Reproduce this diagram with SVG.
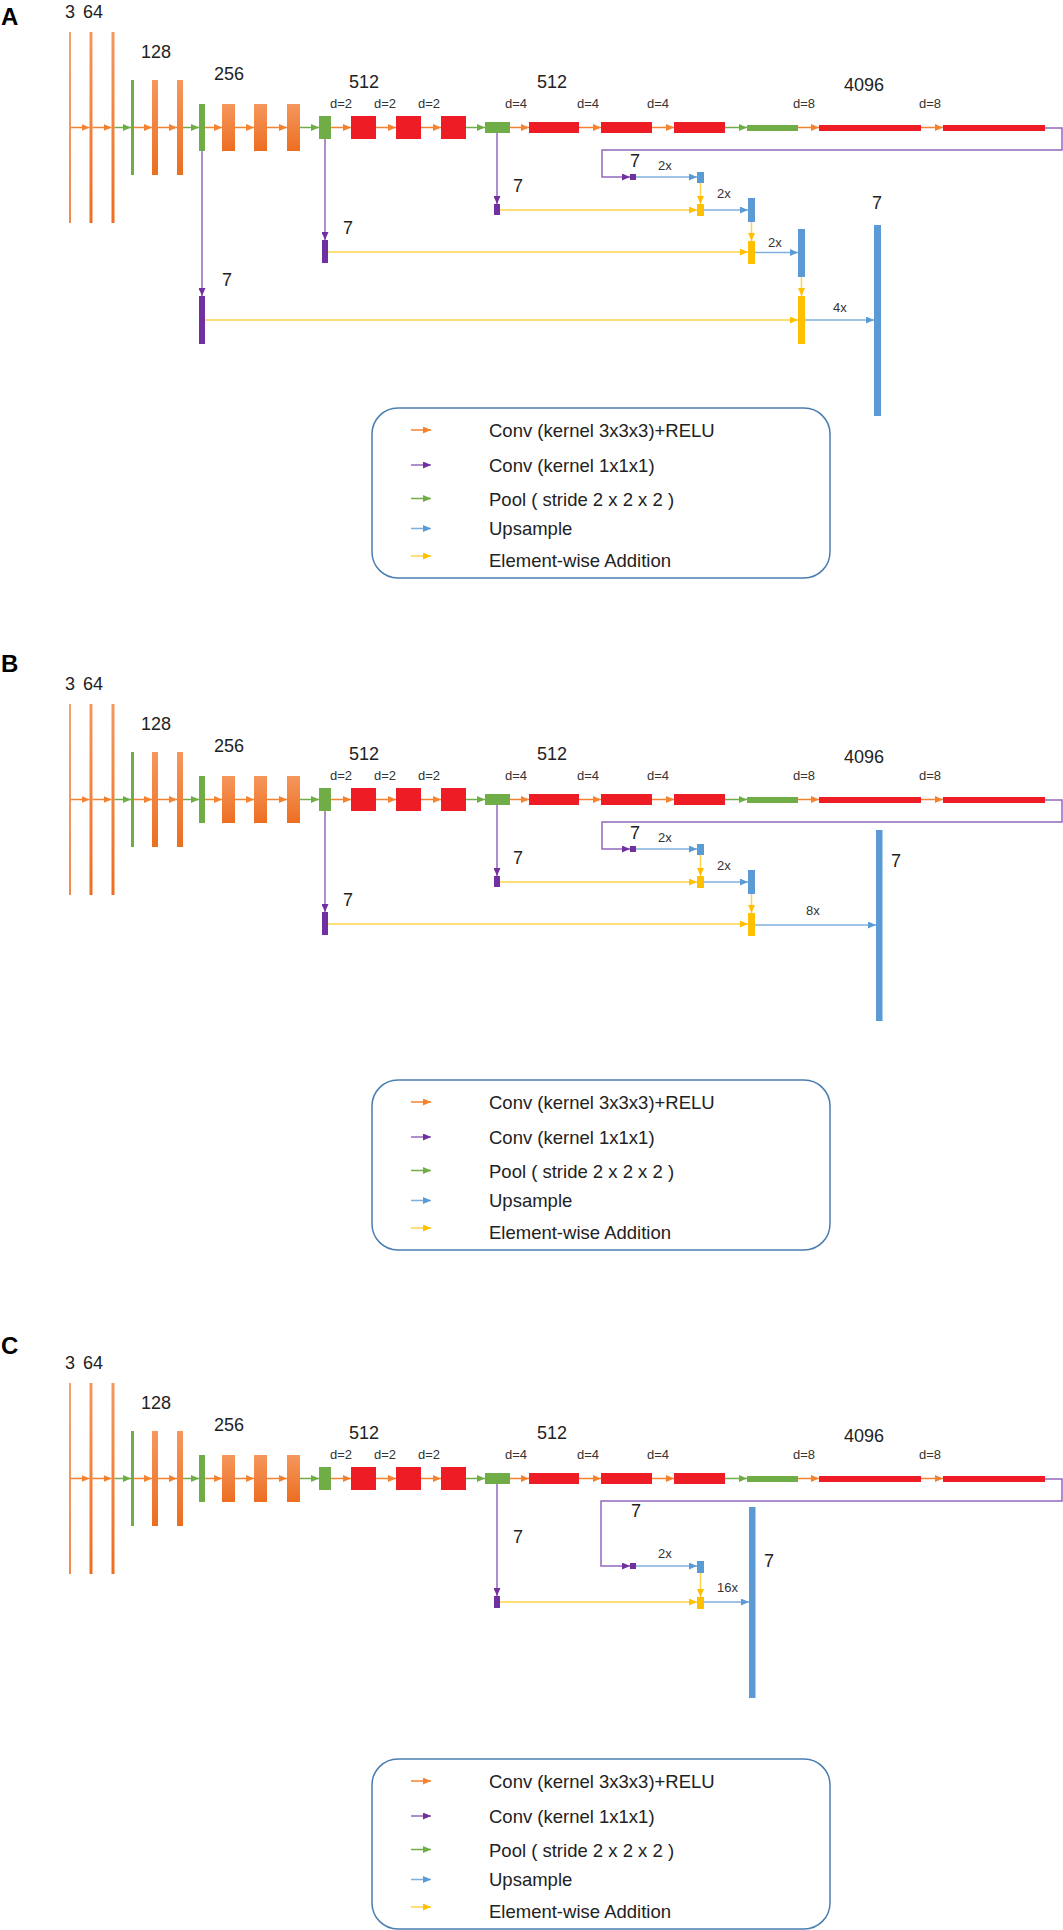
<svg xmlns="http://www.w3.org/2000/svg" width="1063" height="1930" viewBox="0 0 1063 1930">
<style>
text{font-family:"Liberation Sans",Arial,sans-serif;fill:#222}
.lbl{font-size:18px}
.d{font-size:13px;fill:#333}
.x{font-size:13px;fill:#333}
.leg{font-size:18.5px}
.pl{font-size:24px;font-weight:bold;fill:#000}
.or{fill:url(#og)}
.l1{fill:url(#og1)}
.gr{fill:#70AD47}
.rd{fill:#EE1C25}
.pu{fill:#7030A0}
.bl{fill:#5B9BD5}
.ye{fill:#FFC000}
.co{fill:none;stroke:#F4822E;stroke-width:1.5}
.cg{fill:none;stroke:#70AD47;stroke-width:1.5}
.cp{fill:none;stroke:#9268BF;stroke-width:1.5}
.cb{fill:none;stroke:#7FB0DF;stroke-width:1.5}
.cy{fill:none;stroke:#FFD24A;stroke-width:1.5}
.box{fill:none;stroke:#4A7DB0;stroke-width:1.5}
</style>
<defs>
<linearGradient id="og" x1="0" y1="0" x2="0" y2="1"><stop offset="0" stop-color="#F5975C"/><stop offset="1" stop-color="#EC6E21"/></linearGradient>
<linearGradient id="og1" x1="0" y1="0" x2="0" y2="1"><stop offset="0" stop-color="#F6A26E"/><stop offset="1" stop-color="#F08A4A"/></linearGradient>
<marker id="mo" markerUnits="userSpaceOnUse" markerWidth="8" markerHeight="7" refX="8" refY="3.5" orient="auto"><path d="M0,0 L8,3.5 L0,7 Z" fill="#F4822E"/></marker>
<marker id="mg" markerUnits="userSpaceOnUse" markerWidth="8" markerHeight="7" refX="8" refY="3.5" orient="auto"><path d="M0,0 L8,3.5 L0,7 Z" fill="#70AD47"/></marker>
<marker id="mp" markerUnits="userSpaceOnUse" markerWidth="8" markerHeight="7" refX="8" refY="3.5" orient="auto"><path d="M0,0 L8,3.5 L0,7 Z" fill="#7030A0"/></marker>
<marker id="mb" markerUnits="userSpaceOnUse" markerWidth="8" markerHeight="7" refX="8" refY="3.5" orient="auto"><path d="M0,0 L8,3.5 L0,7 Z" fill="#5B9BD5"/></marker>
<marker id="my" markerUnits="userSpaceOnUse" markerWidth="8" markerHeight="7" refX="8" refY="3.5" orient="auto"><path d="M0,0 L8,3.5 L0,7 Z" fill="#FFC000"/></marker>
</defs>
<rect x="0" y="0" width="1063" height="1930" fill="#fff"/>

<text class="pl" x="1" y="25">A</text>
<text class="pl" x="1" y="672">B</text>
<text class="pl" x="1" y="1354">C</text>

<!-- ================= PANEL A ================= -->
<g id="panelA">
<g id="a-labels">
<text class="lbl" x="65" y="17.5">3 <tspan x="83">64</tspan></text>
<text class="lbl" x="141" y="58">128</text>
<text class="lbl" x="214" y="80">256</text>
<text class="lbl" x="349" y="88">512</text>
<text class="lbl" x="537" y="88">512</text>
<text class="lbl" x="844" y="91">4096</text>
<text class="d" x="330" y="108">d=2</text><text class="d" x="374" y="108">d=2</text><text class="d" x="418" y="108">d=2</text>
<text class="d" x="505" y="108">d=4</text><text class="d" x="577" y="108">d=4</text><text class="d" x="647" y="108">d=4</text>
<text class="d" x="793" y="108">d=8</text><text class="d" x="919" y="108">d=8</text>
<text class="lbl" x="630" y="167">7</text>
<text class="lbl" x="513" y="192">7</text>
<text class="lbl" x="343" y="234">7</text>
<text class="lbl" x="222" y="286">7</text>
<text class="lbl" x="872" y="209">7</text>
<text class="x" x="658" y="170">2x</text>
<text class="x" x="717" y="198">2x</text>
<text class="x" x="768" y="247">2x</text>
<text class="x" x="833" y="312">4x</text>
</g>
<g id="a-connectors">
<path class="co" marker-end="url(#mo)" d="M70,127.5 H89.5"/>
<path class="co" marker-end="url(#mo)" d="M92.5,127.5 H111.5"/>
<path class="cg" marker-end="url(#mg)" d="M114.5,127.5 H131"/>
<path class="co" marker-end="url(#mo)" d="M134,127.5 H152"/>
<path class="co" marker-end="url(#mo)" d="M158,127.5 H177"/>
<path class="cg" marker-end="url(#mg)" d="M183,127.5 H199"/>
<path class="co" marker-end="url(#mo)" d="M205,127.5 H222"/>
<path class="co" marker-end="url(#mo)" d="M235,127.5 H254"/>
<path class="co" marker-end="url(#mo)" d="M267,127.5 H287"/>
<path class="cg" marker-end="url(#mg)" d="M300,127.5 H319"/>
<path class="co" marker-end="url(#mo)" d="M331,127.5 H351"/>
<path class="co" marker-end="url(#mo)" d="M376,127.5 H396"/>
<path class="co" marker-end="url(#mo)" d="M421,127.5 H441"/>
<path class="cg" marker-end="url(#mg)" d="M466,127.5 H485"/>
<path class="co" marker-end="url(#mo)" d="M510,127.5 H529"/>
<path class="co" marker-end="url(#mo)" d="M579,127.5 H601"/>
<path class="co" marker-end="url(#mo)" d="M652,127.5 H674"/>
<path class="cg" marker-end="url(#mg)" d="M725,127.5 H747"/>
<path class="co" marker-end="url(#mo)" d="M798,127.5 H819"/>
<path class="co" marker-end="url(#mo)" d="M921,127.5 H943"/>
<path class="cp" marker-end="url(#mp)" d="M202,151 V296"/>
<path class="cp" marker-end="url(#mp)" d="M325,139 V240"/>
<path class="cp" marker-end="url(#mp)" d="M497,133 V204"/>
<path class="cp" marker-end="url(#mp)" d="M1045,128 H1062 V150 H602 V177 H630"/>
<path class="cb" marker-end="url(#mb)" d="M636,177 H697"/>
<path class="cy" marker-end="url(#my)" d="M700.5,183 V204"/>
<path class="cy" marker-end="url(#my)" d="M500,210 H697"/>
<path class="cb" marker-end="url(#mb)" d="M704,210 H748"/>
<path class="cy" marker-end="url(#my)" d="M751.5,222 V241"/>
<path class="cy" marker-end="url(#my)" d="M328,252 H748"/>
<path class="cb" marker-end="url(#mb)" d="M755,252.5 H798"/>
<path class="cy" marker-end="url(#my)" d="M801.5,277 V296"/>
<path class="cy" marker-end="url(#my)" d="M205,320 H798"/>
<path class="cb" marker-end="url(#mb)" d="M805,320 H874"/>
</g>
<g id="a-in"><rect class="l1" x="69" y="32" width="2" height="191"/></g>
<g id="a-conv1"><rect class="or" x="89.5" y="32" width="3" height="191"/></g>
<g id="a-conv2"><rect class="or" x="111.5" y="32" width="3" height="191"/></g>
<g id="a-pool1"><rect class="gr" x="131" y="80" width="3" height="95"/></g>
<g id="a-conv3"><rect class="or" x="152" y="80" width="6" height="95"/></g>
<g id="a-conv4"><rect class="or" x="177" y="80" width="6" height="95"/></g>
<g id="a-pool2"><rect class="gr" x="199" y="104" width="6" height="47"/></g>
<g id="a-conv5"><rect class="or" x="222" y="104" width="13" height="47"/></g>
<g id="a-conv6"><rect class="or" x="254" y="104" width="13" height="47"/></g>
<g id="a-conv7"><rect class="or" x="287" y="104" width="13" height="47"/></g>
<g id="a-pool3"><rect class="gr" x="319" y="116" width="12" height="23"/></g>
<g id="a-conv8"><rect class="rd" x="351" y="116" width="25" height="23"/></g>
<g id="a-conv9"><rect class="rd" x="396" y="116" width="25" height="23"/></g>
<g id="a-conv10"><rect class="rd" x="441" y="116" width="25" height="23"/></g>
<g id="a-pool4"><rect class="gr" x="485" y="122" width="25" height="11"/></g>
<g id="a-conv11"><rect class="rd" x="529" y="122" width="50" height="11"/></g>
<g id="a-conv12"><rect class="rd" x="601" y="122" width="51" height="11"/></g>
<g id="a-conv13"><rect class="rd" x="674" y="122" width="51" height="11"/></g>
<g id="a-pool5"><rect class="gr" x="747" y="125" width="51" height="6"/></g>
<g id="a-fc6"><rect class="rd" x="819" y="125" width="102" height="6"/></g>
<g id="a-fc7"><rect class="rd" x="943" y="125" width="102" height="6"/></g>
<g id="a-score5"><rect class="pu" x="630" y="174" width="6" height="6"/></g>
<g id="a-score4"><rect class="pu" x="494" y="204" width="6" height="11"/></g>
<g id="a-score3"><rect class="pu" x="322" y="240" width="6" height="23"/></g>
<g id="a-score2"><rect class="pu" x="199" y="296" width="6" height="48"/></g>
<g id="a-up1"><rect class="bl" x="697" y="172" width="7" height="11"/></g>
<g id="a-add1"><rect class="ye" x="697" y="204" width="7" height="12"/></g>
<g id="a-up2"><rect class="bl" x="748" y="198" width="7" height="24"/></g>
<g id="a-add2"><rect class="ye" x="748" y="241" width="7" height="23"/></g>
<g id="a-up3"><rect class="bl" x="798" y="229" width="7" height="48"/></g>
<g id="a-add3"><rect class="ye" x="798" y="296" width="7" height="48"/></g>
<g id="a-out"><rect class="bl" x="874" y="225" width="7" height="191"/></g>
<g id="a-legend">
<rect class="box" x="372" y="408" width="458" height="170" rx="26"/>
<path class="co" marker-end="url(#mo)" d="M411,430 H431"/>
<path class="cp" stroke="#7030A0" marker-end="url(#mp)" d="M411,465 H431"/>
<path class="cg" marker-end="url(#mg)" d="M411,498.5 H431"/>
<path class="cb" marker-end="url(#mb)" d="M411,528.5 H431"/>
<path class="cy" marker-end="url(#my)" d="M411,556 H431"/>
<text class="leg" x="489" y="437">Conv (kernel 3x3x3)+RELU</text>
<text class="leg" x="489" y="472">Conv (kernel 1x1x1)</text>
<text class="leg" x="489" y="506">Pool ( stride 2 x 2 x 2 )</text>
<text class="leg" x="489" y="535">Upsample</text>
<text class="leg" x="489" y="567">Element-wise Addition</text>
</g>
</g>

<!-- ================= PANEL B ================= -->
<g id="panelB" transform="translate(0,672)">
<g id="b-labels">
<text class="lbl" x="65" y="17.5">3 <tspan x="83">64</tspan></text>
<text class="lbl" x="141" y="58">128</text>
<text class="lbl" x="214" y="80">256</text>
<text class="lbl" x="349" y="88">512</text>
<text class="lbl" x="537" y="88">512</text>
<text class="lbl" x="844" y="91">4096</text>
<text class="d" x="330" y="108">d=2</text><text class="d" x="374" y="108">d=2</text><text class="d" x="418" y="108">d=2</text>
<text class="d" x="505" y="108">d=4</text><text class="d" x="577" y="108">d=4</text><text class="d" x="647" y="108">d=4</text>
<text class="d" x="793" y="108">d=8</text><text class="d" x="919" y="108">d=8</text>
<text class="lbl" x="630" y="167">7</text>
<text class="lbl" x="513" y="192">7</text>
<text class="lbl" x="343" y="234">7</text>
<text class="lbl" x="891" y="195">7</text>
<text class="x" x="658" y="170">2x</text>
<text class="x" x="717" y="198">2x</text>
<text class="x" x="806" y="243">8x</text>
</g>
<g id="b-connectors">
<path class="co" marker-end="url(#mo)" d="M70,127.5 H89.5"/>
<path class="co" marker-end="url(#mo)" d="M92.5,127.5 H111.5"/>
<path class="cg" marker-end="url(#mg)" d="M114.5,127.5 H131"/>
<path class="co" marker-end="url(#mo)" d="M134,127.5 H152"/>
<path class="co" marker-end="url(#mo)" d="M158,127.5 H177"/>
<path class="cg" marker-end="url(#mg)" d="M183,127.5 H199"/>
<path class="co" marker-end="url(#mo)" d="M205,127.5 H222"/>
<path class="co" marker-end="url(#mo)" d="M235,127.5 H254"/>
<path class="co" marker-end="url(#mo)" d="M267,127.5 H287"/>
<path class="cg" marker-end="url(#mg)" d="M300,127.5 H319"/>
<path class="co" marker-end="url(#mo)" d="M331,127.5 H351"/>
<path class="co" marker-end="url(#mo)" d="M376,127.5 H396"/>
<path class="co" marker-end="url(#mo)" d="M421,127.5 H441"/>
<path class="cg" marker-end="url(#mg)" d="M466,127.5 H485"/>
<path class="co" marker-end="url(#mo)" d="M510,127.5 H529"/>
<path class="co" marker-end="url(#mo)" d="M579,127.5 H601"/>
<path class="co" marker-end="url(#mo)" d="M652,127.5 H674"/>
<path class="cg" marker-end="url(#mg)" d="M725,127.5 H747"/>
<path class="co" marker-end="url(#mo)" d="M798,127.5 H819"/>
<path class="co" marker-end="url(#mo)" d="M921,127.5 H943"/>
<path class="cp" marker-end="url(#mp)" d="M325,139 V240"/>
<path class="cp" marker-end="url(#mp)" d="M497,133 V204"/>
<path class="cp" marker-end="url(#mp)" d="M1045,128 H1062 V150 H602 V177 H630"/>
<path class="cb" marker-end="url(#mb)" d="M636,177 H697"/>
<path class="cy" marker-end="url(#my)" d="M700.5,183 V204"/>
<path class="cy" marker-end="url(#my)" d="M500,210 H697"/>
<path class="cb" marker-end="url(#mb)" d="M704,210 H748"/>
<path class="cy" marker-end="url(#my)" d="M751.5,222 V241"/>
<path class="cy" marker-end="url(#my)" d="M328,252 H748"/>
<path class="cb" marker-end="url(#mb)" d="M755,253 H876"/>
</g>
<g id="b-in"><rect class="l1" x="69" y="32" width="2" height="191"/></g>
<g id="b-conv1"><rect class="or" x="89.5" y="32" width="3" height="191"/></g>
<g id="b-conv2"><rect class="or" x="111.5" y="32" width="3" height="191"/></g>
<g id="b-pool1"><rect class="gr" x="131" y="80" width="3" height="95"/></g>
<g id="b-conv3"><rect class="or" x="152" y="80" width="6" height="95"/></g>
<g id="b-conv4"><rect class="or" x="177" y="80" width="6" height="95"/></g>
<g id="b-pool2"><rect class="gr" x="199" y="104" width="6" height="47"/></g>
<g id="b-conv5"><rect class="or" x="222" y="104" width="13" height="47"/></g>
<g id="b-conv6"><rect class="or" x="254" y="104" width="13" height="47"/></g>
<g id="b-conv7"><rect class="or" x="287" y="104" width="13" height="47"/></g>
<g id="b-pool3"><rect class="gr" x="319" y="116" width="12" height="23"/></g>
<g id="b-conv8"><rect class="rd" x="351" y="116" width="25" height="23"/></g>
<g id="b-conv9"><rect class="rd" x="396" y="116" width="25" height="23"/></g>
<g id="b-conv10"><rect class="rd" x="441" y="116" width="25" height="23"/></g>
<g id="b-pool4"><rect class="gr" x="485" y="122" width="25" height="11"/></g>
<g id="b-conv11"><rect class="rd" x="529" y="122" width="50" height="11"/></g>
<g id="b-conv12"><rect class="rd" x="601" y="122" width="51" height="11"/></g>
<g id="b-conv13"><rect class="rd" x="674" y="122" width="51" height="11"/></g>
<g id="b-pool5"><rect class="gr" x="747" y="125" width="51" height="6"/></g>
<g id="b-fc6"><rect class="rd" x="819" y="125" width="102" height="6"/></g>
<g id="b-fc7"><rect class="rd" x="943" y="125" width="102" height="6"/></g>
<g id="b-score5"><rect class="pu" x="630" y="174" width="6" height="6"/></g>
<g id="b-score4"><rect class="pu" x="494" y="204" width="6" height="11"/></g>
<g id="b-score3"><rect class="pu" x="322" y="240" width="6" height="23"/></g>
<g id="b-up1"><rect class="bl" x="697" y="172" width="7" height="11"/></g>
<g id="b-add1"><rect class="ye" x="697" y="204" width="7" height="12"/></g>
<g id="b-up2"><rect class="bl" x="748" y="198" width="7" height="24"/></g>
<g id="b-add2"><rect class="ye" x="748" y="241" width="7" height="23"/></g>
<g id="b-out"><rect class="bl" x="876" y="158" width="6.5" height="191"/></g>
<g id="b-legend">
<rect class="box" x="372" y="408" width="458" height="170" rx="26"/>
<path class="co" marker-end="url(#mo)" d="M411,430 H431"/>
<path class="cp" stroke="#7030A0" marker-end="url(#mp)" d="M411,465 H431"/>
<path class="cg" marker-end="url(#mg)" d="M411,498.5 H431"/>
<path class="cb" marker-end="url(#mb)" d="M411,528.5 H431"/>
<path class="cy" marker-end="url(#my)" d="M411,556 H431"/>
<text class="leg" x="489" y="437">Conv (kernel 3x3x3)+RELU</text>
<text class="leg" x="489" y="472">Conv (kernel 1x1x1)</text>
<text class="leg" x="489" y="506">Pool ( stride 2 x 2 x 2 )</text>
<text class="leg" x="489" y="535">Upsample</text>
<text class="leg" x="489" y="567">Element-wise Addition</text>
</g>
</g>

<!-- ================= PANEL C ================= -->
<g id="panelC" transform="translate(0,1351)">
<g id="c-labels">
<text class="lbl" x="65" y="17.5">3 <tspan x="83">64</tspan></text>
<text class="lbl" x="141" y="58">128</text>
<text class="lbl" x="214" y="80">256</text>
<text class="lbl" x="349" y="88">512</text>
<text class="lbl" x="537" y="88">512</text>
<text class="lbl" x="844" y="91">4096</text>
<text class="d" x="330" y="108">d=2</text><text class="d" x="374" y="108">d=2</text><text class="d" x="418" y="108">d=2</text>
<text class="d" x="505" y="108">d=4</text><text class="d" x="577" y="108">d=4</text><text class="d" x="647" y="108">d=4</text>
<text class="d" x="793" y="108">d=8</text><text class="d" x="919" y="108">d=8</text>
<text class="lbl" x="631" y="166">7</text>
<text class="lbl" x="513" y="192">7</text>
<text class="lbl" x="764" y="216">7</text>
<text class="x" x="658" y="207">2x</text>
<text class="x" x="717" y="241">16x</text>
</g>
<g id="c-connectors">
<path class="co" marker-end="url(#mo)" d="M70,127.5 H89.5"/>
<path class="co" marker-end="url(#mo)" d="M92.5,127.5 H111.5"/>
<path class="cg" marker-end="url(#mg)" d="M114.5,127.5 H131"/>
<path class="co" marker-end="url(#mo)" d="M134,127.5 H152"/>
<path class="co" marker-end="url(#mo)" d="M158,127.5 H177"/>
<path class="cg" marker-end="url(#mg)" d="M183,127.5 H199"/>
<path class="co" marker-end="url(#mo)" d="M205,127.5 H222"/>
<path class="co" marker-end="url(#mo)" d="M235,127.5 H254"/>
<path class="co" marker-end="url(#mo)" d="M267,127.5 H287"/>
<path class="cg" marker-end="url(#mg)" d="M300,127.5 H319"/>
<path class="co" marker-end="url(#mo)" d="M331,127.5 H351"/>
<path class="co" marker-end="url(#mo)" d="M376,127.5 H396"/>
<path class="co" marker-end="url(#mo)" d="M421,127.5 H441"/>
<path class="cg" marker-end="url(#mg)" d="M466,127.5 H485"/>
<path class="co" marker-end="url(#mo)" d="M510,127.5 H529"/>
<path class="co" marker-end="url(#mo)" d="M579,127.5 H601"/>
<path class="co" marker-end="url(#mo)" d="M652,127.5 H674"/>
<path class="cg" marker-end="url(#mg)" d="M725,127.5 H747"/>
<path class="co" marker-end="url(#mo)" d="M798,127.5 H819"/>
<path class="co" marker-end="url(#mo)" d="M921,127.5 H943"/>
<path class="cp" marker-end="url(#mp)" d="M497,133 V245"/>
<path class="cp" marker-end="url(#mp)" d="M1045,128 H1062 V150 H601 V215 H630"/>
<path class="cb" marker-end="url(#mb)" d="M636,215 H697"/>
<path class="cy" marker-end="url(#my)" d="M700.5,222 V246"/>
<path class="cy" marker-end="url(#my)" d="M500,251 H697"/>
<path class="cb" marker-end="url(#mb)" d="M704,251 H749"/>
</g>
<g id="c-in"><rect class="l1" x="69" y="32" width="2" height="191"/></g>
<g id="c-conv1"><rect class="or" x="89.5" y="32" width="3" height="191"/></g>
<g id="c-conv2"><rect class="or" x="111.5" y="32" width="3" height="191"/></g>
<g id="c-pool1"><rect class="gr" x="131" y="80" width="3" height="95"/></g>
<g id="c-conv3"><rect class="or" x="152" y="80" width="6" height="95"/></g>
<g id="c-conv4"><rect class="or" x="177" y="80" width="6" height="95"/></g>
<g id="c-pool2"><rect class="gr" x="199" y="104" width="6" height="47"/></g>
<g id="c-conv5"><rect class="or" x="222" y="104" width="13" height="47"/></g>
<g id="c-conv6"><rect class="or" x="254" y="104" width="13" height="47"/></g>
<g id="c-conv7"><rect class="or" x="287" y="104" width="13" height="47"/></g>
<g id="c-pool3"><rect class="gr" x="319" y="116" width="12" height="23"/></g>
<g id="c-conv8"><rect class="rd" x="351" y="116" width="25" height="23"/></g>
<g id="c-conv9"><rect class="rd" x="396" y="116" width="25" height="23"/></g>
<g id="c-conv10"><rect class="rd" x="441" y="116" width="25" height="23"/></g>
<g id="c-pool4"><rect class="gr" x="485" y="122" width="25" height="11"/></g>
<g id="c-conv11"><rect class="rd" x="529" y="122" width="50" height="11"/></g>
<g id="c-conv12"><rect class="rd" x="601" y="122" width="51" height="11"/></g>
<g id="c-conv13"><rect class="rd" x="674" y="122" width="51" height="11"/></g>
<g id="c-pool5"><rect class="gr" x="747" y="125" width="51" height="6"/></g>
<g id="c-fc6"><rect class="rd" x="819" y="125" width="102" height="6"/></g>
<g id="c-fc7"><rect class="rd" x="943" y="125" width="102" height="6"/></g>
<g id="c-score5"><rect class="pu" x="630" y="212" width="6" height="6"/></g>
<g id="c-score4"><rect class="pu" x="494" y="245" width="6" height="12"/></g>
<g id="c-up1"><rect class="bl" x="697" y="210" width="7" height="12"/></g>
<g id="c-add1"><rect class="ye" x="697" y="246" width="7" height="12"/></g>
<g id="c-out"><rect class="bl" x="749" y="156" width="6.5" height="191"/></g>
<g id="c-legend">
<rect class="box" x="372" y="408" width="458" height="170" rx="26"/>
<path class="co" marker-end="url(#mo)" d="M411,430 H431"/>
<path class="cp" stroke="#7030A0" marker-end="url(#mp)" d="M411,465 H431"/>
<path class="cg" marker-end="url(#mg)" d="M411,498.5 H431"/>
<path class="cb" marker-end="url(#mb)" d="M411,528.5 H431"/>
<path class="cy" marker-end="url(#my)" d="M411,556 H431"/>
<text class="leg" x="489" y="437">Conv (kernel 3x3x3)+RELU</text>
<text class="leg" x="489" y="472">Conv (kernel 1x1x1)</text>
<text class="leg" x="489" y="506">Pool ( stride 2 x 2 x 2 )</text>
<text class="leg" x="489" y="535">Upsample</text>
<text class="leg" x="489" y="567">Element-wise Addition</text>
</g>
</g>
</svg>
